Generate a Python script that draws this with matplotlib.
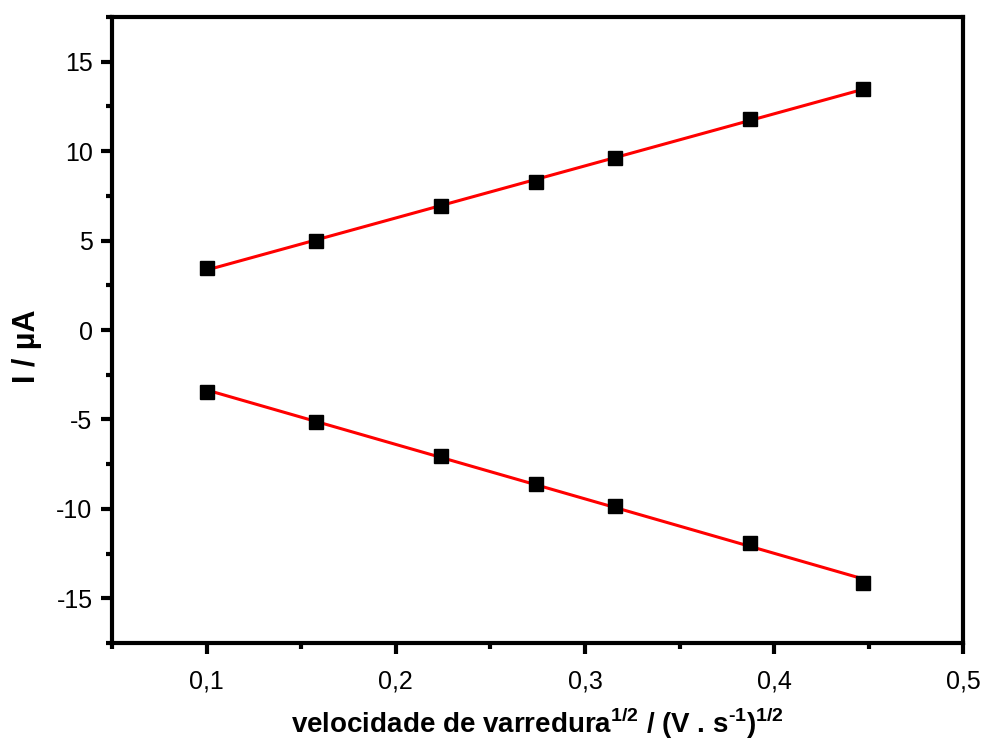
#!/usr/bin/env python3
"""Peak current vs square root of scan rate, with linear fits."""

import matplotlib.pyplot as plt
import numpy as np
from matplotlib.ticker import FuncFormatter, MultipleLocator

plt.rcParams["font.family"] = ["Liberation Sans", "DejaVu Sans"]
plt.rcParams["axes.unicode_minus"] = False
plt.rcParams["mathtext.fontset"] = "custom"
plt.rcParams["mathtext.rm"] = "Liberation Sans:bold"
plt.rcParams["mathtext.bf"] = "Liberation Sans:bold"

# sqrt of scan rate, (V/s)^1/2
sqrt_v = [0.100, 0.158, 0.224, 0.274, 0.316, 0.387, 0.447]
# anodic and cathodic peak currents, uA
i_anodic = [3.45, 5.0, 6.95, 8.3, 9.63, 11.8, 13.47]
i_cathodic = [-3.45, -5.12, -7.07, -8.63, -9.86, -11.9, -14.14]


def comma(x, pos):
    return f"{x:g}".replace(".", ",")


fig = plt.figure(figsize=(9.82, 7.42), dpi=100)
ax = fig.add_axes([0.114, 0.1334, 0.867, 0.8436])

x = np.array(sqrt_v)
for ys in (i_anodic, i_cathodic):
    slope, icpt = np.polyfit(x, ys, 1)
    ax.plot(x, slope * x + icpt, color="#ff0000", lw=2.2, zorder=2)
    ax.plot(x, ys, ls="none", marker="s", ms=9.5, color="black", zorder=3)

ax.set_xlim(0.05, 0.5)
ax.set_ylim(-17.5, 17.5)
ax.xaxis.set_major_locator(MultipleLocator(0.1))
ax.xaxis.set_minor_locator(MultipleLocator(0.05))
ax.yaxis.set_major_locator(MultipleLocator(5))
ax.yaxis.set_minor_locator(MultipleLocator(2.5))
ax.xaxis.set_major_formatter(FuncFormatter(comma))
ax.yaxis.set_major_formatter(FuncFormatter(comma))

for sp in ax.spines.values():
    sp.set_linewidth(3)
ax.tick_params(which="major", direction="out", length=8, width=3, labelsize=18)
ax.tick_params(axis="x", which="major", pad=11)
ax.tick_params(axis="y", which="major", pad=6)
ax.tick_params(which="minor", direction="out", length=4, width=3)

ax.set_xlabel(r"velocidade de varredura$^{\text{1/2}}$ / (V . s$^{\text{-1}}$)$^{\text{1/2}}$",
              fontsize=20, fontweight="bold", labelpad=9)
ax.set_ylabel("I / µA", fontsize=22, fontweight="bold", labelpad=10)
ax.yaxis.label.set_y(0.474)

fig.savefig("out.png", dpi=100)
